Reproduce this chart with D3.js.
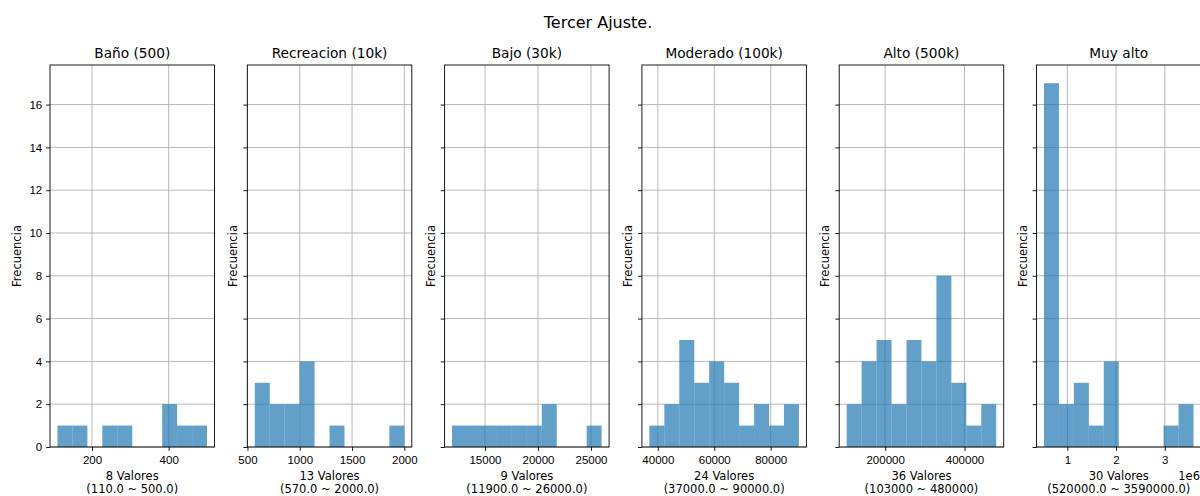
<!DOCTYPE html>
<html>
<head>
<meta charset="utf-8">
<script src="https://cdn.jsdelivr.net/npm/d3@7"></script>
<style>
  body { margin: 0; background: #fff; }
  svg { display: block; font-family: "DejaVu Sans", sans-serif; }
  .tick text { font-size: 11.5px; fill: #000; }
  .tick line { stroke: #000; stroke-width: 0.9; }
</style>
</head>
<body>
<div id="chart"></div>
<script>
// Data: 10 bins per panel, counts per bin
const titles = ['Baño (500)', 'Recreacion (10k)', 'Bajo (30k)', 'Moderado (100k)', 'Alto (500k)', 'Muy alto'];
const banoCounts = [1, 1, 0, 1, 1, 0, 0, 2, 1, 1];
const recreacionCounts = [3, 2, 2, 4, 0, 1, 0, 0, 0, 1];
const bajoCounts = [1, 1, 1, 1, 1, 1, 2, 0, 0, 1];
const moderadoCounts = [1, 2, 5, 3, 4, 3, 1, 2, 1, 2];
const altoCounts = [2, 4, 5, 2, 5, 4, 8, 3, 1, 2];
const muyAltoCounts = [17, 2, 3, 1, 4, 0, 0, 0, 1, 2];
const minValues = [110, 570, 11900, 37000, 103000, 520000];
const maxValues = [500, 2000, 26000, 90000, 480000, 3590000];
const nValues = [8, 13, 9, 24, 36, 30];
const rangeLabels = ['(110.0 ~ 500.0)', '(570.0 ~ 2000.0)', '(11900.0 ~ 26000.0)',
  '(37000.0 ~ 90000.0)', '(103000 ~ 480000)', '(520000.0 ~ 3590000.0)'];
const xTicks = [
  [200, 400],
  [500, 1000, 1500, 2000],
  [15000, 20000, 25000],
  [40000, 60000, 80000],
  [200000, 400000],
  [1000000, 2000000, 3000000]
];
const yTicks = [0, 2, 4, 6, 8, 10, 12, 14, 16];

const allCounts = [banoCounts, recreacionCounts, bajoCounts, moderadoCounts, altoCounts, muyAltoCounts];

const W = 1200, H = 496;
const plotTop = 65, plotBottom = 447;
const panelW = 164.5, step = 197.3, left0 = 50;

const svg = d3.select('#chart').append('svg')
  .attr('width', W)
  .attr('height', H);

svg.append('text')
  .attr('x', 598)
  .attr('y', 28)
  .attr('text-anchor', 'middle')
  .style('font-size', '16px')
  .text('Tercer Ajuste.');

const yMax = d3.max(allCounts.flat()) * 1.05;
const yScale = d3.scaleLinear().domain([0, yMax]).range([plotBottom, plotTop]);

allCounts.forEach((counts, i) => {
  const x0 = left0 + i * step;
  const lo = minValues[i], hi = maxValues[i];
  const pad = (hi - lo) * 0.05;
  const xScale = d3.scaleLinear().domain([lo - pad, hi + pad]).range([0, panelW]);
  const binW = (hi - lo) / counts.length;
  const bins = counts.map((c, k) => ({ x0: lo + k * binW, x1: lo + (k + 1) * binW, count: c }));

  const g = svg.append('g').attr('transform', `translate(${x0},0)`);

  // grid
  g.selectAll('.vgrid').data(xTicks[i]).enter().append('line')
    .attr('x1', d => xScale(d)).attr('x2', d => xScale(d))
    .attr('y1', plotTop).attr('y2', plotBottom)
    .attr('stroke', '#b0b0b0').attr('stroke-width', 0.9);
  g.selectAll('.hgrid').data(yTicks).enter().append('line')
    .attr('x1', 0).attr('x2', panelW)
    .attr('y1', d => yScale(d)).attr('y2', d => yScale(d))
    .attr('stroke', '#b0b0b0').attr('stroke-width', 0.9);

  // bars
  g.selectAll('rect.bar').data(bins.filter(b => b.count > 0)).enter().append('rect')
    .attr('class', 'bar')
    .attr('x', d => xScale(d.x0))
    .attr('y', d => yScale(d.count))
    .attr('width', d => xScale(d.x1) - xScale(d.x0))
    .attr('height', d => plotBottom - yScale(d.count))
    .attr('fill', '#1f77b4')
    .attr('fill-opacity', 0.7);

  // axes
  const xAxis = d3.axisBottom(xScale)
    .tickValues(xTicks[i])
    .tickSize(3.9)
    .tickPadding(5)
    .tickFormat(i === 5 ? (d => d / 1e6) : (d => d));
  g.append('g')
    .attr('transform', `translate(0,${plotBottom})`)
    .call(xAxis)
    .call(s => s.select('.domain').remove());

  const yAxis = d3.axisLeft(yScale)
    .tickValues(yTicks)
    .tickSize(3.9)
    .tickPadding(3.9)
    .tickFormat(i === 0 ? (d => d) : (() => ''));
  g.append('g')
    .call(yAxis)
    .call(s => s.select('.domain').remove());

  // spines
  g.append('rect')
    .attr('x', 0).attr('y', plotTop)
    .attr('width', panelW).attr('height', plotBottom - plotTop)
    .attr('fill', 'none').attr('stroke', '#000').attr('stroke-width', 0.9);

  // title
  g.append('text')
    .attr('x', panelW / 2).attr('y', 58)
    .attr('text-anchor', 'middle')
    .style('font-size', '13.7px')
    .text(titles[i]);

  // x label (two lines)
  const xl = g.append('text')
    .attr('text-anchor', 'middle')
    .style('font-size', '11.5px');
  xl.append('tspan').attr('x', panelW / 2).attr('y', 480).text(`${nValues[i]} Valores`);
  xl.append('tspan').attr('x', panelW / 2).attr('y', 493).text(rangeLabels[i]);

  // y label
  const ylx = i === 0 ? -29 : -10;
  g.append('text')
    .attr('transform', `translate(${ylx},${(plotTop + plotBottom) / 2}) rotate(-90)`)
    .attr('text-anchor', 'middle')
    .style('font-size', '11.5px')
    .text('Frecuencia');

  if (i === 5) {
    g.append('text')
      .attr('x', panelW - 1).attr('y', 480)
      .attr('text-anchor', 'end')
      .style('font-size', '11.5px')
      .text('1e6');
  }
});
</script>
</body>
</html>
